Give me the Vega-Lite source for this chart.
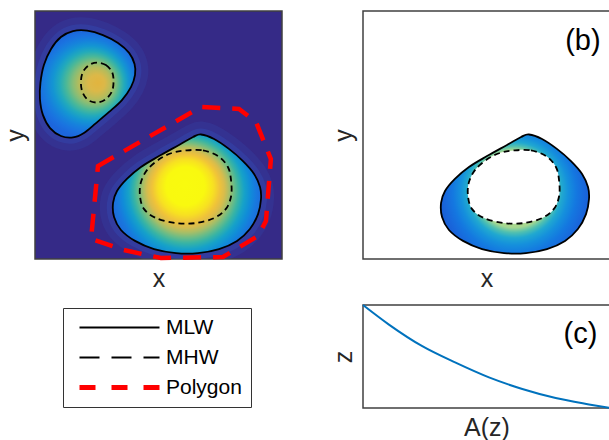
{
  "$schema": "https://vega.github.io/schema/vega-lite/v6.json",
  "padding": {"left": 2, "top": 10, "right": 0, "bottom": 0},
  "background": "white",
  "config": {
    "view": {"stroke": "#404040", "strokeWidth": 1.5},
    "font": "Liberation Sans",
    "axis": {"ticks": false, "labels": false, "domain": false, "grid": false, "titleFont": "Liberation Sans", "titleFontSize": 25, "titleFontWeight": "normal", "titleColor": "#262626", "titlePadding": 7}
  },
  "datasets": {
    "contours": [
      {"id":"bigMLW","type":"MLW","i":1,"x":67.2,"y":50.2},
      {"id":"bigMLW","type":"MLW","i":2,"x":72.5,"y":48.4},
      {"id":"bigMLW","type":"MLW","i":3,"x":78.5,"y":44.4},
      {"id":"bigMLW","type":"MLW","i":4,"x":84.2,"y":39.5},
      {"id":"bigMLW","type":"MLW","i":5,"x":88.7,"y":34.3},
      {"id":"bigMLW","type":"MLW","i":6,"x":91.1,"y":29.0},
      {"id":"bigMLW","type":"MLW","i":7,"x":91.5,"y":24.2},
      {"id":"bigMLW","type":"MLW","i":8,"x":90.3,"y":18.1},
      {"id":"bigMLW","type":"MLW","i":9,"x":87.0,"y":12.1},
      {"id":"bigMLW","type":"MLW","i":10,"x":81.8,"y":7.3},
      {"id":"bigMLW","type":"MLW","i":11,"x":74.5,"y":4.0},
      {"id":"bigMLW","type":"MLW","i":12,"x":66.0,"y":2.4},
      {"id":"bigMLW","type":"MLW","i":13,"x":57.1,"y":2.4},
      {"id":"bigMLW","type":"MLW","i":14,"x":48.2,"y":4.0},
      {"id":"bigMLW","type":"MLW","i":15,"x":40.5,"y":7.3},
      {"id":"bigMLW","type":"MLW","i":16,"x":34.8,"y":11.7},
      {"id":"bigMLW","type":"MLW","i":17,"x":32.0,"y":16.9},
      {"id":"bigMLW","type":"MLW","i":18,"x":31.6,"y":22.6},
      {"id":"bigMLW","type":"MLW","i":19,"x":33.2,"y":27.4},
      {"id":"bigMLW","type":"MLW","i":20,"x":37.2,"y":32.3},
      {"id":"bigMLW","type":"MLW","i":21,"x":42.9,"y":37.1},
      {"id":"bigMLW","type":"MLW","i":22,"x":50.2,"y":41.5},
      {"id":"bigMLW","type":"MLW","i":23,"x":58.3,"y":46.0},
      {"id":"bigMLW","type":"MLW","i":24,"x":64.0,"y":49.2},
      {"id":"bigMHW","type":"MHW","i":1,"x":61.1,"y":43.8},
      {"id":"bigMHW","type":"MHW","i":2,"x":68.0,"y":43.8},
      {"id":"bigMHW","type":"MHW","i":3,"x":74.1,"y":41.5},
      {"id":"bigMHW","type":"MHW","i":4,"x":78.1,"y":37.1},
      {"id":"bigMHW","type":"MHW","i":5,"x":79.4,"y":31.5},
      {"id":"bigMHW","type":"MHW","i":6,"x":79.4,"y":25.4},
      {"id":"bigMHW","type":"MHW","i":7,"x":77.3,"y":20.2},
      {"id":"bigMHW","type":"MHW","i":8,"x":72.5,"y":16.5},
      {"id":"bigMHW","type":"MHW","i":9,"x":65.2,"y":14.5},
      {"id":"bigMHW","type":"MHW","i":10,"x":57.1,"y":14.5},
      {"id":"bigMHW","type":"MHW","i":11,"x":49.0,"y":16.5},
      {"id":"bigMHW","type":"MHW","i":12,"x":44.1,"y":20.2},
      {"id":"bigMHW","type":"MHW","i":13,"x":42.5,"y":25.4},
      {"id":"bigMHW","type":"MHW","i":14,"x":42.9,"y":31.0},
      {"id":"bigMHW","type":"MHW","i":15,"x":45.7,"y":36.3},
      {"id":"bigMHW","type":"MHW","i":16,"x":51.0,"y":40.7},
      {"id":"bigMHW","type":"MHW","i":17,"x":55.9,"y":42.9},
      {"id":"smallMLW","type":"MLW","i":1,"x":15.4,"y":91.9},
      {"id":"smallMLW","type":"MLW","i":2,"x":21.1,"y":92.1},
      {"id":"smallMLW","type":"MLW","i":3,"x":27.5,"y":90.3},
      {"id":"smallMLW","type":"MLW","i":4,"x":33.6,"y":87.1},
      {"id":"smallMLW","type":"MLW","i":5,"x":38.1,"y":83.1},
      {"id":"smallMLW","type":"MLW","i":6,"x":40.3,"y":78.6},
      {"id":"smallMLW","type":"MLW","i":7,"x":40.5,"y":74.2},
      {"id":"smallMLW","type":"MLW","i":8,"x":38.9,"y":69.4},
      {"id":"smallMLW","type":"MLW","i":9,"x":35.2,"y":64.1},
      {"id":"smallMLW","type":"MLW","i":10,"x":30.0,"y":59.3},
      {"id":"smallMLW","type":"MLW","i":11,"x":24.7,"y":54.8},
      {"id":"smallMLW","type":"MLW","i":12,"x":19.8,"y":50.8},
      {"id":"smallMLW","type":"MLW","i":13,"x":15.4,"y":49.0},
      {"id":"smallMLW","type":"MLW","i":14,"x":10.5,"y":49.6},
      {"id":"smallMLW","type":"MLW","i":15,"x":6.1,"y":52.8},
      {"id":"smallMLW","type":"MLW","i":16,"x":3.2,"y":58.1},
      {"id":"smallMLW","type":"MLW","i":17,"x":2.0,"y":64.5},
      {"id":"smallMLW","type":"MLW","i":18,"x":2.2,"y":71.0},
      {"id":"smallMLW","type":"MLW","i":19,"x":3.6,"y":78.2},
      {"id":"smallMLW","type":"MLW","i":20,"x":6.5,"y":84.7},
      {"id":"smallMLW","type":"MLW","i":21,"x":10.5,"y":89.5},
      {"id":"smallMHW","type":"MHW","i":1,"x":25.1,"y":79.2},
      {"id":"smallMHW","type":"MHW","i":2,"x":28.7,"y":78.2},
      {"id":"smallMHW","type":"MHW","i":3,"x":31.2,"y":75.4},
      {"id":"smallMHW","type":"MHW","i":4,"x":31.8,"y":71.8},
      {"id":"smallMHW","type":"MHW","i":5,"x":31.2,"y":67.7},
      {"id":"smallMHW","type":"MHW","i":6,"x":28.7,"y":64.5},
      {"id":"smallMHW","type":"MHW","i":7,"x":25.1,"y":63.1},
      {"id":"smallMHW","type":"MHW","i":8,"x":21.5,"y":64.1},
      {"id":"smallMHW","type":"MHW","i":9,"x":19.2,"y":67.3},
      {"id":"smallMHW","type":"MHW","i":10,"x":18.6,"y":71.4},
      {"id":"smallMHW","type":"MHW","i":11,"x":19.4,"y":75.4},
      {"id":"smallMHW","type":"MHW","i":12,"x":21.9,"y":78.2},
      {"id":"poly","type":"Polygon","i":1,"x":25.5,"y":37.5},
      {"id":"poly","type":"Polygon","i":2,"x":67.2,"y":61.3},
      {"id":"poly","type":"Polygon","i":3,"x":82.6,"y":60.5},
      {"id":"poly","type":"Polygon","i":4,"x":89.5,"y":55.2},
      {"id":"poly","type":"Polygon","i":5,"x":95.5,"y":40.3},
      {"id":"poly","type":"Polygon","i":6,"x":93.5,"y":15.3},
      {"id":"poly","type":"Polygon","i":7,"x":90.3,"y":9.3},
      {"id":"poly","type":"Polygon","i":8,"x":76.1,"y":0.8},
      {"id":"poly","type":"Polygon","i":9,"x":51.0,"y":0.4},
      {"id":"poly","type":"Polygon","i":10,"x":36.0,"y":3.6},
      {"id":"poly","type":"Polygon","i":11,"x":22.7,"y":8.1},
      {"id":"poly","type":"Polygon","i":12,"x":24.7,"y":29.0}
    ],
    "curve": [
      {"A":0,"z":1},
      {"A":0.105,"z":0.81},
      {"A":0.24,"z":0.6},
      {"A":0.375,"z":0.44},
      {"A":0.51,"z":0.297},
      {"A":0.645,"z":0.185},
      {"A":0.78,"z":0.097},
      {"A":0.915,"z":0.035},
      {"A":1,"z":0}
    ],
    "labelB": [{"label": "(b)", "lx": 96.2, "ly": 84.3}]
  },
  "spacing": 47,
  "hconcat": [
    {
      "width": 247,
      "height": 248,
      "view": {"fill": "#352a87"},
      "data": {"name": "contours"},
      "encoding": {
        "x": {"field": "x", "type": "quantitative", "scale": {"domain": [0, 100]}, "title": "x"},
        "y": {"field": "y", "type": "quantitative", "scale": {"domain": [0, 100]}, "title": "y"},
        "order": {"field": "i", "type": "quantitative"}
      },
      "layer": [
        {
          "transform": [{"filter": "datum.type === 'MLW'"}],
          "mark": {"type": "line", "interpolate": "cardinal-closed", "stroke": "#3060d0", "strokeWidth": 26, "opacity": 0.14, "clip": true},
          "encoding": {"detail": {"field": "id"}}
        },
        {
          "transform": [{"filter": "datum.type === 'MLW'"}],
          "mark": {"type": "line", "interpolate": "cardinal-closed", "stroke": "#3060d0", "strokeWidth": 12, "opacity": 0.22, "clip": true},
          "encoding": {"detail": {"field": "id"}}
        },
        {
          "transform": [{"filter": "datum.id === 'bigMLW'"}],
          "mark": {"type": "line", "interpolate": "cardinal-closed", "filled": true, "strokeWidth": 0,
            "fill": {"gradient": "radial", "x1": 0.486, "y1": 0.43, "r1": 0, "x2": 0.5, "y2": 0.5, "r2": 0.52,
              "stops": [
                {"offset": 0, "color": "#f9fb0e"},
                {"offset": 0.25, "color": "#f9f90f"},
                {"offset": 0.36, "color": "#f7e022"},
                {"offset": 0.44, "color": "#efc23a"},
                {"offset": 0.5, "color": "#d8bc4c"},
                {"offset": 0.56, "color": "#a8be66"},
                {"offset": 0.62, "color": "#6cbc86"},
                {"offset": 0.68, "color": "#38b4a4"},
                {"offset": 0.75, "color": "#16a2c8"},
                {"offset": 0.83, "color": "#108cd8"},
                {"offset": 0.9, "color": "#1878de"},
                {"offset": 1, "color": "#1e68da"}
              ]}}
        },
        {
          "transform": [{"filter": "datum.id === 'smallMLW'"}],
          "mark": {"type": "line", "interpolate": "cardinal-closed", "filled": true, "strokeWidth": 0,
            "fill": {"gradient": "radial", "x1": 0.6, "y1": 0.49, "r1": 0, "x2": 0.5, "y2": 0.5, "r2": 0.5,
              "stops": [
                {"offset": 0, "color": "#e2b43e"},
                {"offset": 0.15, "color": "#dcb848"},
                {"offset": 0.3, "color": "#b4bc5c"},
                {"offset": 0.4, "color": "#84bd78"},
                {"offset": 0.5, "color": "#4ab898"},
                {"offset": 0.6, "color": "#22aabb"},
                {"offset": 0.7, "color": "#1496d2"},
                {"offset": 0.8, "color": "#1682dc"},
                {"offset": 0.9, "color": "#1a72e0"},
                {"offset": 1, "color": "#1c66dc"}
              ]}}
        },
        {
          "transform": [{"filter": "datum.type === 'MLW'"}],
          "mark": {"type": "line", "interpolate": "cardinal-closed", "strokeWidth": 1.8},
          "encoding": {
            "detail": {"field": "id"},
            "color": {"field": "type", "type": "nominal",
              "scale": {"domain": ["MLW", "MHW", "Polygon"], "range": ["#000000", "#000000", "#ff0000"]},
              "legend": {
                "orient": "none", "legendX": 28, "legendY": 297, "title": null,
                "symbolType": "M-4,0H4", "symbolSize": 400, "symbolOffset": 37, "labelOffset": 36,
                "padding": 9, "rowPadding": 8,
                "labelFont": "Liberation Sans", "labelFontSize": 21, "labelColor": "#000000",
                "strokeColor": "#333333", "fillColor": "#ffffff",
                "encode": {
                  "symbols": {"update": {
                    "strokeDash": {"signal": "datum.value === 'MHW' ? [20,12] : datum.value === 'Polygon' ? [16,16] : [1,0]"},
                    "strokeWidth": {"signal": "datum.value === 'Polygon' ? 5 : 2"}
                  }}
                }
              }}
          }
        },
        {
          "transform": [{"filter": "datum.type === 'MHW'"}],
          "mark": {"type": "line", "interpolate": "cardinal-closed", "strokeWidth": 1.8, "strokeDash": [6, 4]},
          "encoding": {
            "detail": {"field": "id"},
            "color": {"field": "type", "type": "nominal"}
          }
        },
        {
          "transform": [{"filter": "datum.id === 'poly'"}],
          "mark": {"type": "line", "interpolate": "linear-closed", "strokeWidth": 4.5, "strokeDash": [18, 12]},
          "encoding": {
            "color": {"field": "type", "type": "nominal"}
          }
        },
        {
          "data": {"values": [{"label": "(a)"}]},
          "mark": {"type": "text", "align": "right", "baseline": "alphabetic", "fontSize": 29, "font": "Liberation Sans", "color": "#ffffff"},
          "encoding": {
            "x": {"datum": 95.8, "type": "quantitative", "title": "x"},
            "y": {"datum": 84.4, "type": "quantitative", "title": "y"},
            "order": null,
            "text": {"field": "label"}
          }
        }
      ]
    },
    {
      "spacing": 8,
      "vconcat": [
        {
          "width": 247,
          "height": 248,
          "view": {"fill": "#ffffff"},
          "layer": [
            {
              "data": {"name": "contours"},
              "transform": [{"filter": "datum.id === 'bigMLW'"}],
              "mark": {"type": "line", "interpolate": "cardinal-closed", "filled": true, "strokeWidth": 0,
                "fill": {"gradient": "radial", "x1": 0.486, "y1": 0.43, "r1": 0, "x2": 0.5, "y2": 0.5, "r2": 0.52,
                  "stops": [
                    {"offset": 0, "color": "#d0e090"},
                    {"offset": 0.5, "color": "#a8d890"},
                    {"offset": 0.56, "color": "#50c0b0"},
                    {"offset": 0.62, "color": "#20a8d0"},
                    {"offset": 0.7, "color": "#1590dc"},
                    {"offset": 0.8, "color": "#1478e0"},
                    {"offset": 0.9, "color": "#1868dc"},
                    {"offset": 1, "color": "#1a5cd4"}
                  ]}},
              "encoding": {
                "x": {"field": "x", "type": "quantitative", "scale": {"domain": [0, 100]}, "title": "x"},
                "y": {"field": "y", "type": "quantitative", "scale": {"domain": [0, 100]}, "title": "y"},
                "order": {"field": "i", "type": "quantitative"}
              }
            },
            {
              "data": {"name": "contours"},
              "transform": [{"filter": "datum.id === 'bigMHW'"}],
              "mark": {"type": "line", "interpolate": "cardinal-closed", "filled": true, "strokeWidth": 0, "fill": "#ffffff"},
              "encoding": {
                "x": {"field": "x", "type": "quantitative"},
                "y": {"field": "y", "type": "quantitative"},
                "order": {"field": "i", "type": "quantitative"}
              }
            },
            {
              "data": {"name": "contours"},
              "transform": [{"filter": "datum.id === 'bigMLW'"}],
              "mark": {"type": "line", "interpolate": "cardinal-closed", "strokeWidth": 1.8, "stroke": "#000000"},
              "encoding": {
                "x": {"field": "x", "type": "quantitative"},
                "y": {"field": "y", "type": "quantitative"},
                "order": {"field": "i", "type": "quantitative"}
              }
            },
            {
              "data": {"name": "contours"},
              "transform": [{"filter": "datum.id === 'bigMHW'"}],
              "mark": {"type": "line", "interpolate": "cardinal-closed", "strokeWidth": 1.8, "stroke": "#000000", "strokeDash": [6, 4]},
              "encoding": {
                "x": {"field": "x", "type": "quantitative"},
                "y": {"field": "y", "type": "quantitative"},
                "order": {"field": "i", "type": "quantitative"}
              }
            },
            {
              "data": {"name": "labelB"},
              "mark": {"type": "text", "align": "right", "baseline": "alphabetic", "fontSize": 29, "font": "Liberation Sans", "fill": "#000000"},
              "encoding": {
                "x": {"field": "lx", "type": "quantitative", "title": "x"},
                "y": {"field": "ly", "type": "quantitative", "title": "y"},
                "text": {"field": "label"}
              }
            }
          ]
        },
        {
          "width": 247,
          "height": 103,
          "layer": [
            {
              "data": {"name": "curve"},
              "mark": {"type": "line", "interpolate": "monotone", "stroke": "#0072bd", "strokeWidth": 2},
              "encoding": {
                "x": {"field": "A", "type": "quantitative", "scale": {"domain": [0, 1]}, "title": "A(z)"},
                "y": {"field": "z", "type": "quantitative", "scale": {"domain": [0, 1]}, "title": "z"}
              }
            },
            {
              "data": {"values": [{"label": "(c)"}]},
              "mark": {"type": "text", "align": "right", "baseline": "alphabetic", "fontSize": 29, "font": "Liberation Sans", "color": "#000000"},
              "encoding": {
                "x": {"datum": 0.949, "type": "quantitative", "title": "A(z)"},
                "y": {"datum": 0.629, "type": "quantitative", "title": "z"},
                "text": {"field": "label"}
              }
            }
          ]
        }
      ]
    }
  ]
}
